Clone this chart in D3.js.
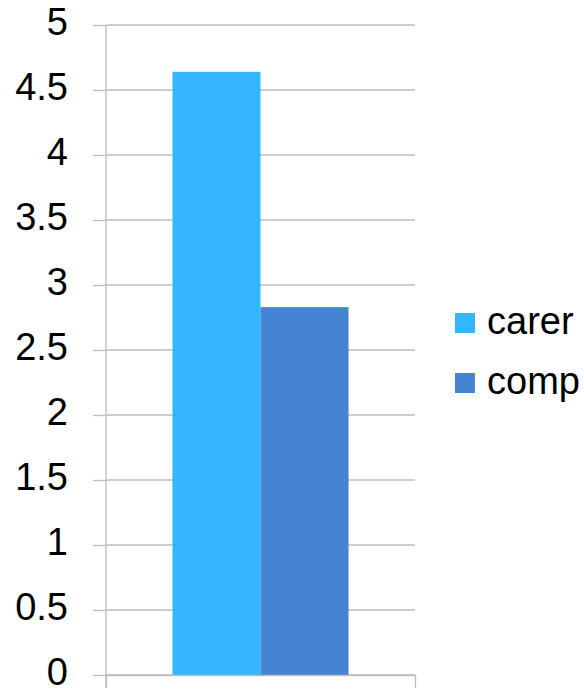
<!DOCTYPE html>
<html>
<head>
<meta charset="utf-8">
<script src="https://cdn.jsdelivr.net/npm/d3@7"></script>
<style>
  html, body { margin: 0; padding: 0; background: #fff; }
  svg { display: block; }
  text { font-family: "Liberation Sans", Arial, sans-serif; fill: #000; }
</style>
</head>
<body>
<svg id="chart" width="584" height="691"></svg>
<script>
// Chart data
const series = ["carer", "comp"];
const values = [4.64, 2.83];
const colors = ["#33b5ff", "#4584d3"];
const yTicks = [0, 0.5, 1, 1.5, 2, 2.5, 3, 3.5, 4, 4.5, 5];
const yTickLabels = ["0", "0.5", "1", "1.5", "2", "2.5", "3", "3.5", "4", "4.5", "5"];

const svg = d3.select("#chart");
const plot = { left: 106, right: 415, top: 25, bottom: 675 };
const gridColor = "#bdbdbd";
const fontSize = 38;

const y = d3.scaleLinear().domain([0, 5]).range([plot.bottom, plot.top]);
const x = d3.scaleBand()
  .domain(series)
  .range([plot.left, plot.right])
  .paddingInner(0)
  .paddingOuter(0.755);

// Horizontal gridlines
svg.append("g")
  .selectAll("line")
  .data(yTicks)
  .join("line")
  .attr("x1", plot.left)
  .attr("x2", plot.right)
  .attr("y1", d => y(d))
  .attr("y2", d => y(d))
  .attr("stroke", gridColor)
  .attr("stroke-width", 1.3);

// Bars
svg.append("g")
  .selectAll("rect")
  .data(series.map((s, i) => ({ s, v: values[i], c: colors[i] })))
  .join("rect")
  .attr("x", d => x(d.s))
  .attr("width", x.bandwidth())
  .attr("y", d => y(d.v))
  .attr("height", d => y(0) - y(d.v))
  .attr("fill", d => d.c);

// Y axis
const yAxis = d3.axisLeft(y)
  .tickValues(yTicks)
  .tickFormat((d, i) => yTickLabels[i])
  .tickSize(13)
  .tickPadding(25);
const gy = svg.append("g")
  .attr("transform", `translate(${plot.left},0)`)
  .call(yAxis);
gy.select(".domain").attr("stroke", gridColor).attr("stroke-width", 1.3)
  .attr("d", `M0,${plot.top}V${plot.bottom + 13}`);
gy.selectAll(".tick line").attr("stroke", gridColor).attr("stroke-width", 1.3);
gy.selectAll(".tick text")
  .attr("font-size", fontSize)
  .attr("font-family", "Liberation Sans, Arial, sans-serif")
  .attr("fill", "#000")
  .attr("dy", "0.26em");

// X axis (single category, no labels)
const xOuter = d3.scaleLinear().domain([0, 1]).range([plot.left, plot.right]);
const xAxis = d3.axisBottom(xOuter)
  .tickValues([0, 1])
  .tickFormat("")
  .tickSize(13)
  .tickSizeOuter(0);
const gx = svg.append("g")
  .attr("transform", `translate(0,${plot.bottom})`)
  .call(xAxis);
gx.select(".domain").attr("stroke", gridColor).attr("stroke-width", 1.3);
gx.selectAll(".tick line").attr("stroke", gridColor).attr("stroke-width", 1.3);

// Legend
const legend = svg.append("g").attr("transform", "translate(455,313)");
const item = legend.selectAll("g")
  .data(series)
  .join("g")
  .attr("transform", (d, i) => `translate(0,${i * 60})`);
item.append("rect")
  .attr("width", 20)
  .attr("height", 20)
  .attr("fill", (d, i) => colors[i]);
item.append("text")
  .attr("x", 32)
  .attr("y", 21)
  .attr("font-size", fontSize)
  .text(d => d);
</script>
</body>
</html>
